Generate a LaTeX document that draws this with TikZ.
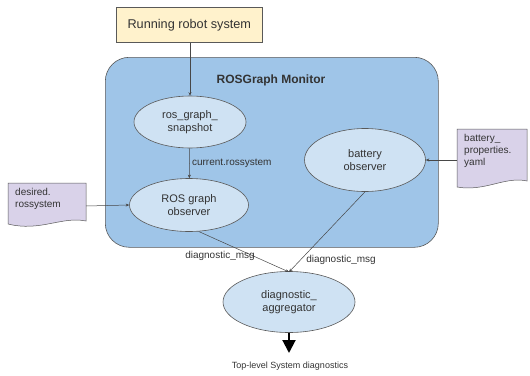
\documentclass[tikz,border=0pt]{standalone}
\usepackage{fontspec}
\setmainfont{Liberation Sans}
\usetikzlibrary{arrows.meta,shapes.geometric}
\definecolor{yel}{HTML}{FFF2CC}
\definecolor{monblue}{HTML}{9FC5E8}
\definecolor{ellblue}{HTML}{CFE2F3}
\definecolor{docpurple}{HTML}{D9D2E9}
\definecolor{edge}{HTML}{595959}
\definecolor{txt}{HTML}{333333}
\tikzset{
  ell/.style={ellipse, draw=edge, fill=ellblue, line width=0.6pt, inner sep=0pt, font=\fontsize{11}{13}\selectfont, align=center, text=txt},
  conn/.style={draw=edge!80!black, line width=0.5pt, -{Stealth[length=3.5pt,width=3pt]}},
  lbl/.style={font=\fontsize{10}{12}\selectfont, text=txt},
  doctext/.style={font=\fontsize{10}{12}\selectfont, align=left, anchor=north west, inner sep=0pt, text=txt},
  docshape/.style={draw=edge, fill=docpurple, line width=0.5pt}
}
\begin{document}
\begin{tikzpicture}[x=1pt,y=-1pt]
\useasboundingbox (0,0) rectangle (530,375);
% monitor
\node[draw=edge, fill=monblue, line width=0.6pt, rounded corners=24pt, minimum width=333pt, minimum height=190pt, anchor=north west] (mon) at (105,57) {};
\node[font=\bfseries\fontsize{12}{14}\selectfont, text=txt] (montitle) at (271,80) {ROSGraph Monitor};
% running
\node[draw=edge, fill=yel, line width=0.6pt, minimum width=146pt, minimum height=35pt, anchor=north west, font=\fontsize{12.7}{15}\selectfont, text=txt] (run) at (116,7) {Running robot system};
% ellipses
\node[ell, minimum width=112pt, minimum height=52pt] (snap) at (190,122) {ros\_graph\_\\snapshot};
\node[ell, minimum width=119pt, minimum height=53pt] (obs) at (189,205) {ROS graph\\observer};
\node[ell, minimum width=121pt, minimum height=63pt] (bat) at (365,160) {battery\\observer};
\node[ell, minimum width=132pt, minimum height=61pt] (agg) at (289,302) {diagnostic\_\\aggregator};
% documents
\path[docshape] (8,183) -- (86,183) -- (86,221) .. controls (62,216) and (40,232) .. (8,224) -- cycle;
\coordinate (desR) at (86,206);
\node[doctext] (destext) at (15,188) {desired.\\rossystem};
\path[docshape] (457,129) -- (527,129) -- (527,181) .. controls (505,176) and (485,192) .. (457,187) -- cycle;
\coordinate (batL) at (457,160);
\node[doctext] (battext) at (464,134) {battery\_\\properties.\\yaml};
% connectors
\draw[conn] (run.south -| snap.north) -- (snap.north);
\draw[conn] (snap) -- (obs) node[lbl, midway, right, xshift=-1pt] (curlbl) {current.rossystem};
\draw[conn] (desR) -- (obs.west);
\draw[conn] (batL) -- (bat.east);
\coordinate (aggtop) at (289,272);
\draw[conn] (obs.-70) -- (aggtop);
\draw[conn] (bat.-90) -- (aggtop);
\node[lbl] (dm1) at (220,256) {diagnostic\_msg};
\node[lbl] (dm2) at (341,260) {diagnostic\_msg};
\coordinate (outend) at (289,353);
\draw[line width=2pt, -{Triangle[length=13pt,width=13pt]}] (agg.south) -- (outend);
\node[font=\fontsize{9}{11}\selectfont, text=txt] (toplvl) at (290,366) {Top-level System diagnostics};
\end{tikzpicture}
\end{document}
